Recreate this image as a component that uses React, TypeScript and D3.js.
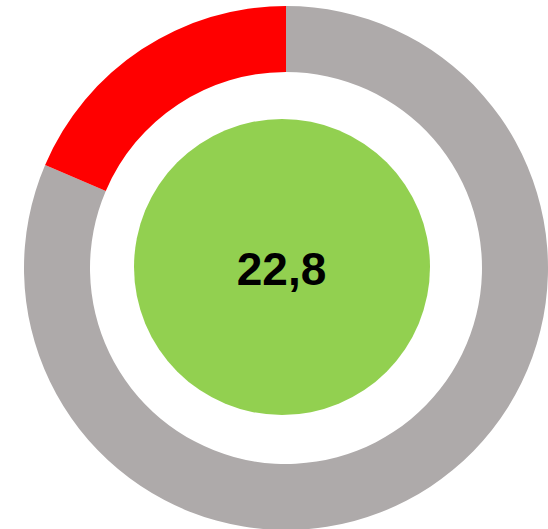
import React from 'react';
import * as d3 from 'd3';

// ring values: remaining part first, then the measured value
const segmentNames = ['rest', 'value'];
const segmentValues = [100, 22.8];
const segmentColors = ['#AEAAAA', '#FF0000'];
const centerLabel = '22,8';

const W = 548;
const H = 529;

export default function App() {
  const cx = 286;
  const cy = 268;
  const outerR = 262;
  const innerR = 196;

  const pie = d3.pie<number>().sort(null).value((d) => d);
  const arcs = pie(segmentValues);
  const arc = d3.arc<d3.PieArcDatum<number>>().innerRadius(innerR).outerRadius(outerR);

  return (
    <svg
      width={W}
      height={H}
      style={{ position: 'absolute', left: 0, top: 0 }}
    >
      <g transform={`translate(${cx}, ${cy})`}>
        {arcs.map((a, i) => (
          <path key={segmentNames[i]} d={arc(a) || ''} fill={segmentColors[i]} />
        ))}
      </g>
      <circle cx={282} cy={267} r={148} fill="#92D050" />
      <text
        x={281.5}
        y={285}
        textAnchor="middle"
        fontFamily="'Liberation Sans', Arial, sans-serif"
        fontWeight="bold"
        fontSize={46}
        fill="#000"
      >
        {centerLabel}
      </text>
    </svg>
  );
}
